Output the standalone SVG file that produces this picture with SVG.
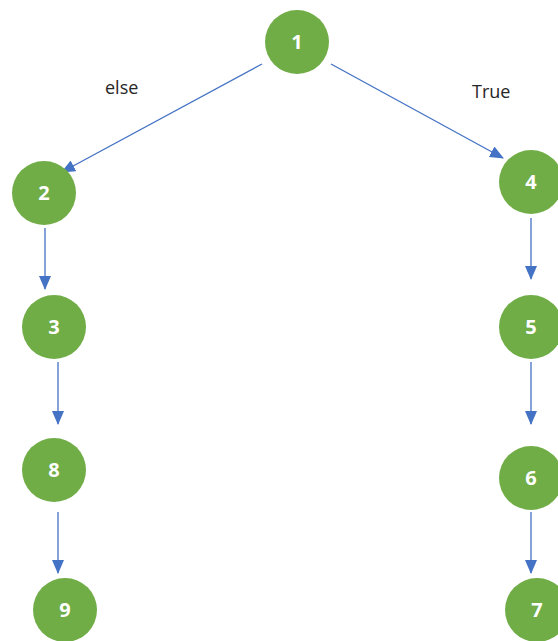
<svg xmlns="http://www.w3.org/2000/svg" width="558" height="641" viewBox="0 0 558 641">
<style>
.n{fill:#70AD47}
.t{fill:#fff;font-family:"Open Sans","Liberation Sans",sans-serif;font-weight:bold;font-size:20px;text-anchor:middle}
.e{stroke:#4472C4;stroke-width:1.3;fill:none;marker-end:url(#a)}
.l{fill:#262626;font-family:"Open Sans","Liberation Sans",sans-serif;font-size:18px}
</style>
<defs><marker id="a" markerWidth="14" markerHeight="12" refX="13" refY="6" orient="auto" markerUnits="userSpaceOnUse"><path d="M0,0L14,6L0,12z" fill="#4472C4"/></marker></defs>
<rect width="558" height="641" fill="#fff"/>
<g id="connectors">
<line class="e" x1="262" y1="64" x2="62" y2="172"/>
<line class="e" x1="331" y1="64" x2="503" y2="158"/>
<line class="e" x1="45" y1="228" x2="45" y2="289"/>
<line class="e" x1="58" y1="362" x2="58" y2="424"/>
<line class="e" x1="58" y1="512" x2="58" y2="573"/>
<line class="e" x1="531" y1="218" x2="531" y2="279"/>
<line class="e" x1="531" y1="362" x2="531" y2="424"/>
<line class="e" x1="531" y1="512" x2="531" y2="573"/>
</g>
<text class="l" x="105" y="94">else</text>
<text class="l" x="472" y="98">True</text>
<g id="n1"><circle class="n" cx="297" cy="42" r="32"/><text class="t" x="297" y="49">1</text></g>
<g id="n2"><circle class="n" cx="44" cy="193" r="32"/><text class="t" x="44" y="200">2</text></g>
<g id="n4"><circle class="n" cx="531" cy="182" r="32"/><text class="t" x="531" y="189">4</text></g>
<g id="n3"><circle class="n" cx="54" cy="327" r="32"/><text class="t" x="54" y="334">3</text></g>
<g id="n5"><circle class="n" cx="531" cy="327" r="32"/><text class="t" x="531" y="334">5</text></g>
<g id="n8"><circle class="n" cx="54" cy="470" r="32"/><text class="t" x="54" y="477">8</text></g>
<g id="n6"><circle class="n" cx="531" cy="478" r="32"/><text class="t" x="531" y="485">6</text></g>
<g id="n9"><circle class="n" cx="65" cy="610" r="32"/><text class="t" x="65" y="617">9</text></g>
<g id="n7"><circle class="n" cx="537" cy="610" r="32"/><text class="t" x="537" y="617">7</text></g>
</svg>
